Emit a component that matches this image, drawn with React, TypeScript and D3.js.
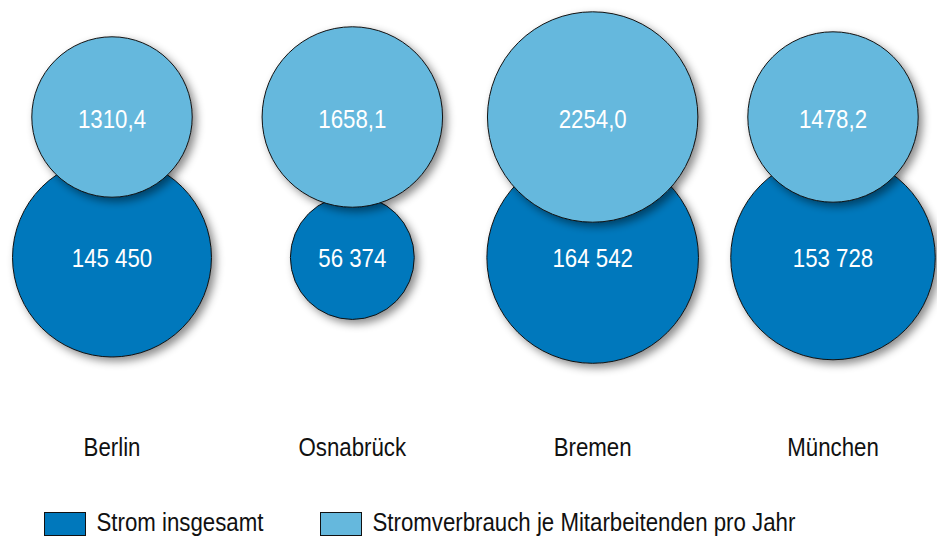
import { useEffect, useRef } from 'react'
import * as d3 from 'd3'

const cities = ['Berlin', 'Osnabrück', 'Bremen', 'München']
const stromInsgesamt = [145450, 56374, 164542, 153728]
const stromJeMitarbeiter = [1310.4, 1658.1, 2254.0, 1478.2]
const legendLabels = ['Strom insgesamt', 'Stromverbrauch je Mitarbeitenden pro Jahr']

const WIDTH = 937
const HEIGHT = 536
const DARK = '#0078bc'
const LIGHT = '#65b8dd'
const FONT = '"Liberation Sans", Arial, sans-serif'
const NARROW = 0.89 // the original uses a condensed face

export default function App() {
  const ref = useRef<SVGSVGElement | null>(null)

  useEffect(() => {
    const svg = d3.select(ref.current)
    svg.selectAll('*').remove()

    const de = d3.formatLocale({ decimal: ',', thousands: ' ', grouping: [3], currency: ['', ' €'] })
    const fmtTotal = de.format(',.0f')
    const fmtPer = de.format('.1f')

    const x = d3.scalePoint<string>().domain(cities).range([112, 833])
    const rTotal = d3.scaleSqrt().domain([0, d3.max(stromInsgesamt) as number]).range([0, 105.8])
    const rPer = d3.scaleSqrt().domain([0, d3.max(stromJeMitarbeiter) as number]).range([0, 105.2])
    const yTotal = 257.5
    const yPer = 117

    const defs = svg.append('defs')
    const filter = defs.append('filter')
      .attr('id', 'shadow')
      .attr('x', '-20%').attr('y', '-20%')
      .attr('width', '150%').attr('height', '150%')
    filter.append('feDropShadow')
      .attr('dx', 4).attr('dy', 4)
      .attr('stdDeviation', 4.5)
      .attr('flood-color', '#000')
      .attr('flood-opacity', 0.45)

    const cols = svg.append('g')
      .selectAll('g')
      .data(cities)
      .join('g')
      .attr('transform', d => `translate(${x(d)},0)`)

    // total consumption (bottom)
    cols.append('circle')
      .attr('cy', yTotal)
      .attr('r', (_, i) => rTotal(stromInsgesamt[i]))
      .attr('fill', DARK)
      .attr('stroke', '#111')
      .attr('stroke-width', 1)
      .attr('filter', 'url(#shadow)')

    // per employee (top, overlapping)
    cols.append('circle')
      .attr('cy', yPer)
      .attr('r', (_, i) => rPer(stromJeMitarbeiter[i]))
      .attr('fill', LIGHT)
      .attr('stroke', '#111')
      .attr('stroke-width', 1)
      .attr('filter', 'url(#shadow)')

    const label = (
      sel: d3.Selection<SVGGElement, string, SVGGElement, unknown>,
      y: number,
      fill: string,
      txt: (d: string, i: number) => string
    ) => sel.append('text')
      .attr('transform', `translate(0,${y}) scale(${NARROW},1)`)
      .attr('text-anchor', 'middle')
      .attr('fill', fill)
      .style('font-family', FONT)
      .style('font-size', '25px')
      .text(txt)

    label(cols, yTotal + 9, '#fff', (_, i) => fmtTotal(stromInsgesamt[i]))
    label(cols, yPer + 11, '#fff', (_, i) => fmtPer(stromJeMitarbeiter[i]))
    label(cols, 456, '#111', d => d)

    // legend
    const legendX = [44.5, 320.5]
    const legend = svg.append('g')
      .selectAll('g')
      .data(legendLabels)
      .join('g')
      .attr('transform', (_, i) => `translate(${legendX[i]},512.5)`)
    legend.append('rect')
      .attr('width', 41)
      .attr('height', 23)
      .attr('fill', (_, i) => (i === 0 ? DARK : LIGHT))
      .attr('stroke', '#111')
      .attr('stroke-width', 1)
    legend.append('text')
      .attr('transform', `translate(52,18.5) scale(${NARROW},1)`)
      .attr('fill', '#111')
      .style('font-family', FONT)
      .style('font-size', '25px')
      .text(d => d)
  }, [])

  return (
    <svg
      ref={ref}
      width={WIDTH}
      height={HEIGHT}
      style={{ position: 'absolute', left: 0, top: 0, background: '#fff' }}
    />
  )
}
